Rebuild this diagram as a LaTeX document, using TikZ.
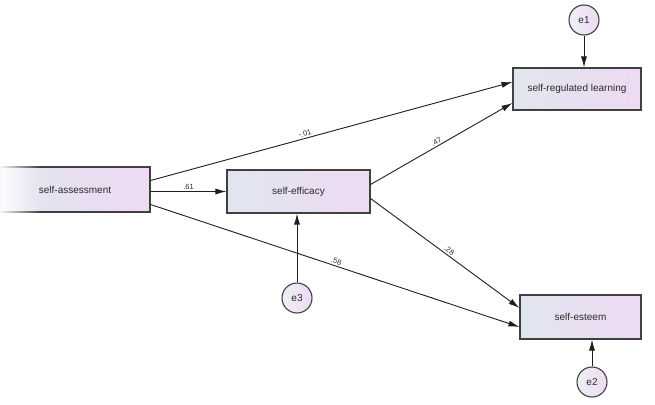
\documentclass[tikz,border=0pt]{standalone}
\usepackage{fontspec}
\setmainfont{Liberation Sans}
\usetikzlibrary{arrows.meta,calc,fadings}
\definecolor{boxleft}{HTML}{E1E6EE}
\definecolor{boxright}{HTML}{EED9F3}
\definecolor{edge}{HTML}{404040}
\definecolor{ink}{HTML}{1E1E1E}
\definecolor{txt}{HTML}{2A2A2A}
\tikzset{
  var/.style={draw=edge, line width=1.1pt, left color=boxleft, right color=boxright,
    rectangle, inner sep=0pt, font=\fontsize{10}{12}\selectfont, text=txt},
  err/.style={draw=edge, line width=1.1pt, left color=boxleft!60!white, right color=boxright,
    circle, minimum size=30pt, inner sep=0pt, font=\fontsize{10}{12}\selectfont, text=txt},
  path/.style={draw=ink, line width=0.9pt, -{Latex[length=11pt,width=6pt]}},
  coef/.style={font=\fontsize{7.5}{9}\selectfont, text=txt, sloped, above, inner sep=1.5pt}
}
\begin{document}
\begin{tikzpicture}[x=1pt,y=-1pt]
\useasboundingbox (0,0) rectangle (655,404);
% observed variables
\node[var, minimum width=150pt, minimum height=45pt] (sa) at (75,189.5) {self-assessment};
\node[var, minimum width=143pt, minimum height=43pt] (se) at (298.5,191.5) {self-efficacy};
\node[var, minimum width=128pt, minimum height=42pt] (srl) at (577,89) {self-regulated learning};
\node[var, minimum width=121pt, minimum height=44pt] (est) at (580.5,317) {self-esteem};
% soft left edge of the exogenous variable
\fill[white, path fading=east] (-2,164) rectangle (40,215);
% error terms
\node[err] (e1) at (584,20) {e1};
\node[err] (e3) at (297,298) {e3};
\node[err] (e2) at (592,382) {e2};
% regression paths
\draw[path] ([yshift=9pt]sa.east) -- node[coef, pos=0.43] {-.01} ([yshift=7pt]srl.west);
\draw[path] ([yshift=-2pt]sa.east) -- node[coef, pos=0.5] {.61} (se.west);
\draw[path] ([yshift=-15pt]sa.east) -- node[coef, pos=0.5] {.58} ([yshift=-10pt]est.west);
\draw[path] ([yshift=7pt]se.east) -- node[coef, pos=0.48] {.47} ([yshift=-14pt]srl.west);
\draw[path] ([yshift=-7pt]se.east) -- node[coef, pos=0.51] {.28} ([yshift=9pt]est.west);
% residual paths
\draw[path] (e1) -- (e1 |- srl.north);
\draw[path] (e3) -- (e3 |- se.south);
\draw[path] (e2) -- (e2 |- est.south);
\end{tikzpicture}
\end{document}
